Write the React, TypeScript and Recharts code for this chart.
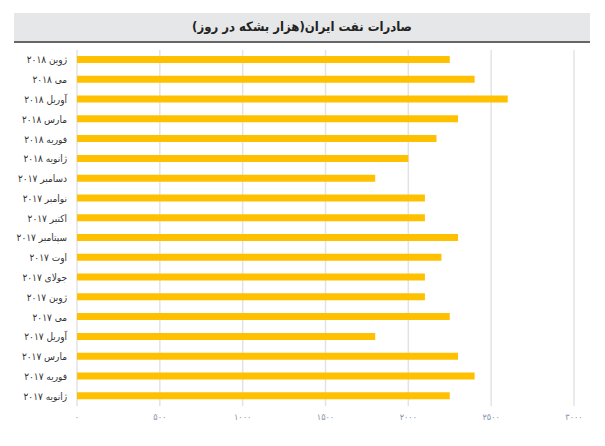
import React from "react";
import { Bar, BarChart, CartesianGrid, XAxis, YAxis } from "recharts";

// months, top to bottom as in the picture
const months = [
  "ژوین ۲۰۱۸",
  "می ۲۰۱۸",
  "آوریل ۲۰۱۸",
  "مارس ۲۰۱۸",
  "فوریه ۲۰۱۸",
  "ژانویه ۲۰۱۸",
  "دسامبر ۲۰۱۷",
  "نوامبر ۲۰۱۷",
  "اکتبر ۲۰۱۷",
  "سپتامبر ۲۰۱۷",
  "اوت ۲۰۱۷",
  "جولای ۲۰۱۷",
  "ژوین ۲۰۱۷",
  "می ۲۰۱۷",
  "آوریل ۲۰۱۷",
  "مارس ۲۰۱۷",
  "فوریه ۲۰۱۷",
  "ژانویه ۲۰۱۷",
];

// thousand barrels per day
const exports = [
  2250, 2400, 2600, 2300, 2170, 2000, 1800, 2100, 2100, 2300, 2200, 2100, 2100,
  2250, 1800, 2300, 2400, 2250,
];

const xTicks = [0, 500, 1000, 1500, 2000, 2500, 3000];

const title = "صادرات نفت ایران(هزار بشکه در روز)";

const font = "'DejaVu Sans Condensed', 'DejaVu Sans', sans-serif";
const faDigits = "۰۱۲۳۴۵۶۷۸۹";
const toFa = (v: number) => String(v).replace(/\d/g, (d) => faDigits[+d]);

const rows = months.map((m, i) => ({ month: m, value: exports[i] }));

// plain tick so recharts doesn't wrap the two-word labels
function MonthTick({ x, y, payload }: any) {
  return (
    <text x={x} y={y} textAnchor="end" dominantBaseline="central" fontSize={10} fill="#333" fontFamily={font}>
      {payload.value}
    </text>
  );
}

export default function App() {
  return (
    <div style={{ position: "relative", width: 605, height: 446, margin: -8, background: "#fff" }}>
      <div
        style={{
          position: "absolute",
          left: 14,
          top: 13,
          width: 576,
          height: 28,
          background: "#e6e7e8",
          borderBottom: "2px solid #666",
          direction: "rtl",
          textAlign: "center",
          lineHeight: "28px",
          fontFamily: font,
          fontWeight: "bold",
          fontSize: 13,
          color: "#222",
        }}
      >
        {title}
      </div>
      <BarChart
        width={605}
        height={446}
        data={rows}
        layout="vertical"
        margin={{ top: 50, right: 31, bottom: 10, left: 0 }}
        barCategoryGap={0}
      >
        <CartesianGrid horizontal={false} stroke="#e3e3e3" strokeWidth={1.5} />
        <XAxis
          type="number"
          domain={[0, 3000]}
          ticks={xTicks}
          tickFormatter={toFa}
          axisLine={false}
          tickLine={false}
          height={30}
          tick={{ fontSize: 9, fill: "#8393ad", fontFamily: font }}
        />
        <YAxis
          type="category"
          dataKey="month"
          width={77}
          axisLine={false}
          tickLine={false}
          tickMargin={4}
          interval={0}
          tick={<MonthTick />}
        />
        <Bar dataKey="value" fill="#ffc000" barSize={7} isAnimationActive={false} />
      </BarChart>
    </div>
  );
}
